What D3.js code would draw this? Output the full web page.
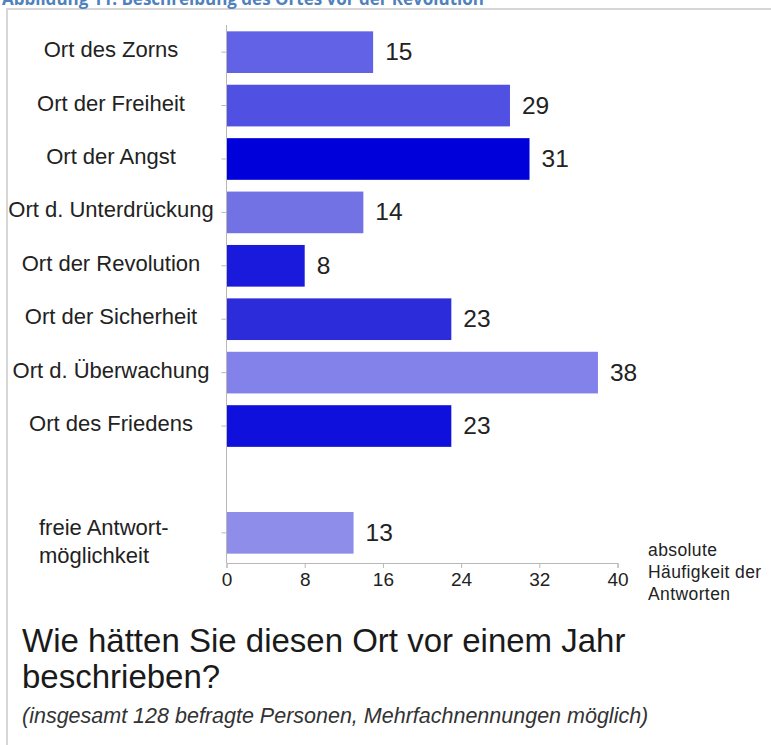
<!DOCTYPE html>
<html>
<head>
<meta charset="utf-8">
<script src="https://cdn.jsdelivr.net/npm/d3@7"></script>
<style>
  body { margin: 0; background: #fff; }
  svg { display: block; }
  .axis path, .axis line { stroke: #b8b8b8; }
  .axis text { font-family: Arial, "Liberation Sans", sans-serif; fill: #222; }
</style>
</head>
<body>
<div id="chart"></div>
<script>
var categories = ['Ort des Zorns', 'Ort der Freiheit', 'Ort der Angst', 'Ort d. Unterdrückung',
  'Ort der Revolution', 'Ort der Sicherheit', 'Ort d. Überwachung', 'Ort des Friedens',
  '', 'freie Antwort-\nmöglichkeit'];
var values = [15, 29, 31, 14, 8, 23, 38, 23, null, 13];
var barColors = ['#6262e6', '#5050e2', '#0000da', '#7272e4', '#1a1adc', '#2c2cdb', '#8282ea', '#1010dc', null, '#8e8eea'];
var tickVals = [0, 8, 16, 24, 32, 40];
var unitLines = ['absolute', 'Häufigkeit der', 'Antworten'];

var width = 771, height = 745;
var font = 'Arial, "Liberation Sans", sans-serif';

var svg = d3.select('#chart').append('svg').attr('width', width).attr('height', height);

// frame and cut-off caption
svg.append('rect').attr('x', 7).attr('y', 9).attr('width', width).attr('height', height)
  .attr('fill', 'none').attr('stroke', '#d6d6d6').attr('stroke-width', 2);
svg.append('text').attr('x', 2).attr('y', 5)
  .attr('font-family', '"Open Sans", sans-serif').attr('font-weight', 'bold').attr('font-size', 17)
  .attr('fill', '#4f81bd').text('Abbildung 11: Beschreibung des Ortes vor der Revolution');

var rows = categories.map((c, i) => ({ key: 'r' + i, name: c, value: values[i], color: barColors[i] }));
var filled = rows.filter(d => d.value != null);

var x = d3.scaleLinear().domain([0, 40]).range([226.5, 617.5]);
var y = d3.scaleBand().domain(rows.map(d => d.key)).range([26, 559]).paddingInner(0.22).paddingOuter(0.1);

var g = svg.append('g');

g.selectAll('rect.bar').data(filled).join('rect')
  .attr('class', 'bar')
  .attr('x', x(0))
  .attr('y', d => y(d.key))
  .attr('width', d => x(d.value) - x(0))
  .attr('height', y.bandwidth())
  .attr('fill', d => d.color);

g.selectAll('text.val').data(filled).join('text')
  .attr('class', 'val')
  .attr('x', d => x(d.value) + 12)
  .attr('y', d => y(d.key) + y.bandwidth() / 2 + 8)
  .attr('font-family', font)
  .attr('font-size', 24.5).attr('fill', '#222')
  .text(d => d.value);

// y axis (ticks only)
var yAxis = d3.axisLeft(y).tickValues(filled.map(d => d.key)).tickSize(5).tickFormat('');
g.append('g').attr('class', 'axis').attr('transform', 'translate(' + x(0) + ',0)').call(yAxis)
  .call(s => s.select('.domain').attr('d', 'M0,25V563'));

// category labels
g.selectAll('text.cat').data(rows.filter(d => d.name !== '')).join('text')
  .attr('class', 'cat')
  .attr('font-family', font)
  .attr('font-size', 22).attr('fill', '#222')
  .each(function (d) {
    var t = d3.select(this);
    var lines = d.name.split('\n');
    var cy = y(d.key) + y.bandwidth() / 2;
    if (lines.length === 1) {
      t.attr('x', 111).attr('y', cy + 5).attr('text-anchor', 'middle').text(d.name);
    } else {
      lines.forEach((l, i) => {
        t.append('tspan').attr('x', 39).attr('y', cy + 2 + i * 28).text(l);
      });
    }
  });

// x axis
var xAxis = d3.axisBottom(x).tickValues(tickVals).tickSize(5).tickPadding(5);
var gx = g.append('g').attr('class', 'axis').attr('transform', 'translate(0,563)').call(xAxis);
gx.selectAll('text').attr('font-size', 19);

var unit = g.append('text').attr('font-family', font)
  .attr('font-size', 17.5).attr('letter-spacing', 0.4).attr('fill', '#222');
unitLines.forEach((l, i) => {
  unit.append('tspan').attr('x', 648).attr('y', 556 + i * 22).text(l);
});

svg.append('text').attr('x', 22).attr('y', 652)
  .attr('font-family', font).attr('font-size', 33).attr('fill', '#1a1a1a')
  .text('Wie hätten Sie diesen Ort vor einem Jahr');
svg.append('text').attr('x', 22).attr('y', 688)
  .attr('font-family', font).attr('font-size', 33).attr('fill', '#1a1a1a')
  .text('beschrieben?');
svg.append('text').attr('x', 22).attr('y', 723)
  .attr('font-family', font).attr('font-size', 21.5).attr('font-style', 'italic')
  .attr('fill', '#333')
  .text('(insgesamt 128 befragte Personen, Mehrfachnennungen möglich)');
</script>
</body>
</html>
